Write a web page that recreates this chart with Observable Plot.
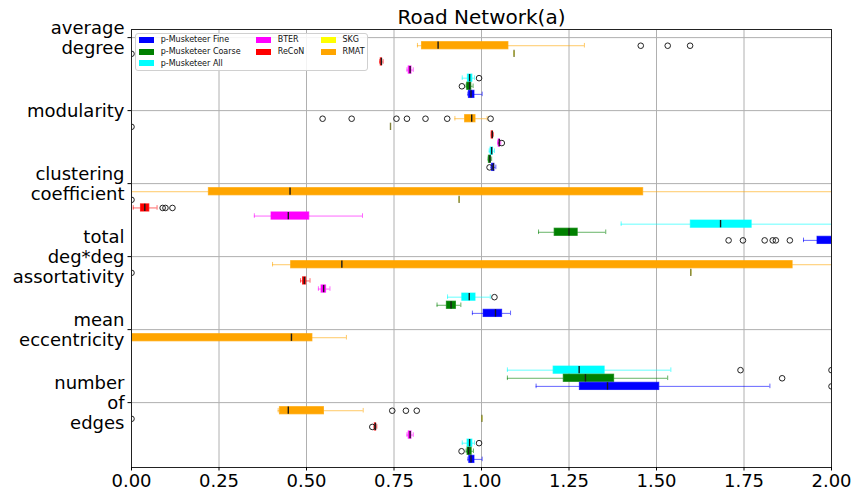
<!DOCTYPE html>
<html><head><meta charset="utf-8">
<script src="https://cdn.jsdelivr.net/npm/d3@7"></script>
<script src="https://cdn.jsdelivr.net/npm/@observablehq/plot@0.6"></script>
<style>
body{margin:0;background:#fff;}
#wrap{position:relative;width:854px;height:494px;font-family:"DejaVu Sans";}
#legend{position:absolute;left:135px;top:33px;width:233px;height:38px;border:1px solid #d0d0d0;border-radius:3px;background:rgba(255,255,255,0.85);box-sizing:border-box;font-size:8px;display:grid;grid-template-columns:117px 64.7px auto;grid-template-rows:repeat(3,11.7px);padding-left:3px;color:#111;}
.item{display:flex;align-items:center;white-space:nowrap;}
.sw{width:15px;height:6px;margin-right:6.7px;flex:none;}
</style></head><body><div id="wrap"><div id="legend"></div></div>
<script>
const titleText = "Road Network(a)";
const metricLabels = ["average\ndegree","modularity","clustering\ncoefficient","total\ndeg*deg\nassortativity","mean\neccentricity","number\nof\nedges"];
const seriesNames = ["RMAT","SKG","ReCoN","BTER","p-Musketeer All","p-Musketeer Coarse","p-Musketeer Fine"];
const seriesColors = ["#ffa500","#ffff00","#ff0000","#ff00ff","#00ffff","#008000","#0000ff"];
const legendOrder = ["p-Musketeer Fine","p-Musketeer Coarse","p-Musketeer All","BTER","ReCoN","SKG","RMAT"];
const xTicks = [0,0.25,0.5,0.75,1.0,1.25,1.5,1.75,2.0];

// [whisker low, q1, median, q3, whisker high] per metric (order of metricLabels)
const rmatStats = [[0.817,0.83,0.876,1.077,1.294],[0.924,0.953,0.972,0.983,1.016],[0.0,0.221,0.453,1.462,2.6],[0.403,0.456,0.601,1.889,2.5],[-0.6,-0.25,0.457,0.517,0.614],[0.419,0.424,0.448,0.55,0.662]];
const rmatFliers = [[1.455,1.532,1.596],[0.546,0.629,0.757,0.787,0.84,0.902,1.026],[],[],[],[0.745,0.784,0.815]];
const skgStats = [[1.093,1.093,1.093,1.093,1.093],[0.74,0.74,0.74,0.74,0.74],[0.936,0.936,0.936,0.936,0.936],[1.598,1.598,1.598,1.598,1.598],null,[1.001,1.001,1.001,1.001,1.001]];
const skgFliers = [[0],[0],[0],[0],[],[0]];
const reconStats = [[0.709,0.712,0.714,0.716,0.719],[1.028,1.029,1.031,1.033,1.034],[0.005,0.027,0.038,0.051,0.073],[0.483,0.49,0.494,0.499,0.51],null,[0.693,0.695,0.697,0.699,0.701]];
const reconFliers = [[],[],[0.089,0.097,0.117],[],[],[0.688]];
const bterStats = [[0.787,0.792,0.796,0.8,0.805],[1.046,1.049,1.051,1.053,1.055],[0.351,0.40,0.448,0.508,0.66],[0.534,0.543,0.549,0.556,0.567],[-0.05,-0.03,-0.02,-0.01,0.0],[0.787,0.792,0.796,0.8,0.805]];
const bterFliers = [[],[1.058],[],[],[],[]];
const allStats = [[0.945,0.961,0.966,0.974,0.98],[1.022,1.026,1.029,1.033,1.037],[1.399,1.598,1.683,1.772,2.5],[0.903,0.945,0.965,0.983,1.025],[1.074,1.206,1.279,1.352,1.541],[0.945,0.96,0.966,0.974,0.98]];
const allFliers = [[0.993],[],[],[1.037],[1.74,2.0],[0.993]];
const coarseStats = [[0.956,0.959,0.966,0.971,0.976],[1.019,1.021,1.024,1.027,1.029],[1.163,1.209,1.25,1.275,1.355],[0.873,0.901,0.913,0.927,0.941],[1.074,1.235,1.297,1.379,1.532],[0.956,0.96,0.963,0.972,0.977]];
const coarseFliers = [[0.944],[],[],[],[1.859],[0.943]];
const fineStats = [[0.961,0.964,0.97,0.98,1.002],[1.027,1.030,1.034,1.037,1.041],[1.92,1.96,2.1,2.3,2.6],[0.974,1.006,1.04,1.059,1.083],[1.156,1.281,1.36,1.508,1.824],[0.961,0.965,0.97,0.98,1.002]];
const fineFliers = [[],[1.023],[1.706,1.747,1.809,1.832,1.841,1.881],[],[2.0],[]];

const statsBySeries = [rmatStats,skgStats,reconStats,bterStats,allStats,coarseStats,fineStats];
const fliersBySeries = [rmatFliers,skgFliers,reconFliers,bterFliers,allFliers,coarseFliers,fineFliers];

const groupStep = 9;
const yTicks = metricLabels.map((_, g) => g * groupStep);
const rows = [], flierRows = [];
seriesNames.forEach((s, k) => {
  statsBySeries[k].forEach((st, g) => {
    if (!st) return;
    rows.push({series: s, pos: g * groupStep + k + 1, lo: st[0], q1: st[1], med: st[2], q3: st[3], hi: st[4]});
  });
  fliersBySeries[k].forEach((fl, g) => fl.forEach(v => flierRows.push({series: s, pos: g * groupStep + k + 1, v})));
});

const half = 0.45, cap = 0.28;
const chart = Plot.plot({
  width: 854, height: 494,
  marginLeft: 131, marginRight: 23, marginTop: 29, marginBottom: 27,
  style: {fontFamily: "DejaVu Sans", fontSize: "18px", background: "white", color: "black"},
  x: {domain: [0, 2], label: null},
  y: {domain: [-1, 53], reverse: true, label: null},
  color: {domain: seriesNames, range: seriesColors},
  marks: [
    Plot.gridX({ticks: xTicks, stroke: "#b0b0b0", strokeOpacity: 1}),
    Plot.gridY({ticks: yTicks, stroke: "#b0b0b0", strokeOpacity: 1}),
    Plot.ruleY(rows, {y: "pos", x1: "lo", x2: "q1", stroke: "series", strokeOpacity: 0.6, clip: true}),
    Plot.ruleY(rows, {y: "pos", x1: "q3", x2: "hi", stroke: "series", strokeOpacity: 0.6, clip: true}),
    Plot.ruleX(rows, {x: "lo", y1: d => d.pos - cap, y2: d => d.pos + cap, stroke: "series", strokeOpacity: 0.6, clip: true}),
    Plot.ruleX(rows, {x: "hi", y1: d => d.pos - cap, y2: d => d.pos + cap, stroke: "series", strokeOpacity: 0.6, clip: true}),
    Plot.rect(rows, {x1: "q1", x2: "q3", y1: d => d.pos - half, y2: d => d.pos + half, fill: "series", stroke: "series", strokeOpacity: 0.7, clip: true}),
    Plot.ruleX(rows, {x: "med", y1: d => d.pos - half, y2: d => d.pos + half, stroke: d => d.series === "SKG" ? "#80803a" : "#1a1a1a", strokeWidth: 1.4, clip: true}),
    Plot.dot(flierRows, {x: "v", y: "pos", r: 2.8, stroke: "#222", strokeWidth: 1, fill: "none", clip: true}),
    Plot.frame({stroke: "#222"}),
    Plot.axisX({ticks: xTicks, tickFormat: d3.format(".2f"), tickSize: 3.5, tickPadding: 3.5, fontSize: 18, label: null}),
    Plot.axisY({ticks: yTicks, tickFormat: d => metricLabels[d / groupStep], tickSize: 3.5, tickPadding: 3.5, fontSize: 18, lineHeight: 1.12, label: null}),
    Plot.text([titleText], {text: d => d, frameAnchor: "top", lineAnchor: "middle", dy: -12, fontSize: 20})
  ]
});
document.getElementById("wrap").prepend(chart);

const legend = document.getElementById("legend");
legendOrder.forEach((name, i) => {
  const col = i < 3 ? 0 : i < 5 ? 1 : 2;
  const row = i < 3 ? i : i < 5 ? i - 3 : i - 5;
  const it = document.createElement("div");
  it.className = "item";
  it.style.gridColumn = String(col + 1);
  it.style.gridRow = String(row + 1);
  const sw = document.createElement("span");
  sw.className = "sw";
  sw.style.background = seriesColors[seriesNames.indexOf(name)];
  it.appendChild(sw);
  it.appendChild(document.createTextNode(name));
  legend.appendChild(it);
});
</script></body></html>
